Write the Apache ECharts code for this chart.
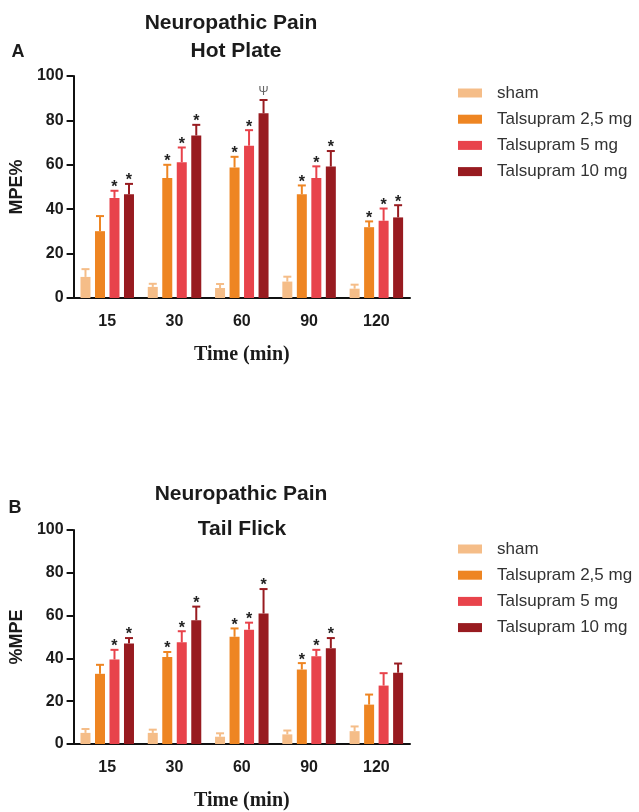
<!DOCTYPE html>
<html>
<head>
    <meta charset="UTF-8">
    <script src="https://cdn.jsdelivr.net/npm/echarts@6/dist/echarts.min.js"></script>
    <style>
        html, body { margin: 0; padding: 0; background: #fff; }
    </style>
</head>
<body>
<div id="main" style="width: 639px; height: 812px;"></div>

<script type="text/javascript">
    // time points (min)
    var categories = ['15', '30', '60', '90', '120'];
    var groupNames = ['sham', 'Talsupram 2,5 mg', 'Talsupram 5 mg', 'Talsupram 10 mg'];
    var colors = ['#F5BD88', '#EE8522', '#E8434B', '#981B20'];
    var yTicks = [0, 20, 40, 60, 80, 100];

    // A - hot plate, mean and SEM
    var hpSham = [9.5, 5.0, 4.5, 7.4, 4.2];
    var hpShamErr = [3.5, 1.4, 1.8, 2.2, 1.8];
    var hpT25 = [30.1, 54.0, 58.8, 46.7, 31.9];
    var hpT25Err = [6.8, 6.0, 4.8, 4.0, 2.6];
    var hpT5 = [45.1, 61.2, 68.6, 54.0, 34.8];
    var hpT5Err = [3.2, 6.6, 7.0, 5.3, 5.5];
    var hpT10 = [46.7, 73.2, 83.2, 59.2, 36.3];
    var hpT10Err = [4.7, 4.8, 6.0, 7.0, 5.5];
    var hpSigSham = ['', '', '', '', ''];
    var hpSigT25 = ['', '*', '*', '*', '*'];
    var hpSigT5 = ['*', '*', '*', '*', '*'];
    var hpSigT10 = ['*', '*', 'Ψ', '*', '*'];

    // B - tail flick, mean and SEM
    var tfSham = [5.2, 5.2, 3.4, 4.5, 6.0];
    var tfShamErr = [1.8, 1.5, 1.6, 1.8, 2.2];
    var tfT25 = [32.8, 40.6, 50.1, 34.8, 18.4];
    var tfT25Err = [4.2, 2.4, 3.9, 3.0, 4.7];
    var tfT5 = [39.5, 47.5, 53.4, 41.0, 27.3];
    var tfT5Err = [4.5, 5.2, 3.3, 3.0, 5.8];
    var tfT10 = [47.0, 57.8, 61.0, 44.8, 33.3];
    var tfT10Err = [2.5, 6.4, 11.4, 4.7, 4.3];
    var tfSigSham = ['', '', '', '', ''];
    var tfSigT25 = ['', '*', '*', '*', ''];
    var tfSigT5 = ['*', '*', '*', '*', ''];
    var tfSigT10 = ['*', '*', '*', '*', ''];

    var FONT = "'Liberation Sans', Arial, sans-serif";
    var BAR_W = 10;
    var STEP = 14.5;
    var offsets = [-1.5 * STEP, -0.5 * STEP, 0.5 * STEP, 1.5 * STEP];

    function errorSeries(idx, gridIdx, means, errs, marks) {
        var data = [];
        for (var i = 0; i < means.length; i++) {
            data.push([i, means[i], errs[i]]);
        }
        return {
            type: 'custom',
            name: groupNames[idx],
            xAxisIndex: gridIdx,
            yAxisIndex: gridIdx,
            z: 5,
            data: data,
            renderItem: function (params, api) {
                var cat = api.value(0), m = api.value(1), e = api.value(2);
                var base = api.coord([cat, m]);
                var top = api.coord([cat, m + e]);
                var x = base[0] + offsets[idx];
                var style = {stroke: colors[idx], lineWidth: 2};
                var kids = [
                    {type: 'line', shape: {x1: x, y1: base[1], x2: x, y2: top[1]}, style: style},
                    {type: 'line', shape: {x1: x - 4, y1: top[1], x2: x + 4, y2: top[1]}, style: style}
                ];
                var mk = marks[params.dataIndex];
                if (mk === '*') {
                    kids.push({type: 'text', x: x, y: top[1] - 3,
                        style: {text: '*', font: 'bold 16px ' + FONT, fill: '#222', align: 'center', verticalAlign: 'middle'}});
                } else if (mk) {
                    kids.push({type: 'text', x: x, y: top[1] - 8,
                        style: {text: mk, font: '12px ' + FONT, fill: '#666', align: 'center', verticalAlign: 'middle'}});
                }
                return {type: 'group', children: kids};
            }
        };
    }

    function barSeries(idx, gridIdx, means) {
        return {
            type: 'bar',
            name: groupNames[idx],
            xAxisIndex: gridIdx,
            yAxisIndex: gridIdx,
            barWidth: BAR_W,
            barGap: '45%',
            itemStyle: {color: colors[idx]},
            data: means
        };
    }

    function xAxis(gridIdx) {
        return {
            type: 'category',
            gridIndex: gridIdx,
            data: categories,
            name: 'Time (min)',
            nameLocation: 'middle',
            nameGap: 47,
            nameTextStyle: {fontFamily: "'Liberation Serif', 'Times New Roman', serif", fontWeight: 'bold', fontSize: 20, color: '#1b1b1b'},
            axisLine: {lineStyle: {color: '#111', width: 2}},
            axisTick: {alignWithLabel: true, length: 6, lineStyle: {color: '#111', width: 2}},
            axisLabel: {fontFamily: FONT, fontWeight: 'bold', fontSize: 16, color: '#1b1b1b', margin: 16}
        };
    }

    function yAxis(gridIdx, name) {
        return {
            type: 'value',
            gridIndex: gridIdx,
            min: yTicks[0],
            max: yTicks[yTicks.length - 1],
            interval: yTicks[1] - yTicks[0],
            name: name,
            nameLocation: 'middle',
            nameRotate: 90,
            nameGap: 40,
            nameTextStyle: {fontFamily: FONT, fontWeight: 'bold', fontSize: 18, color: '#1b1b1b'},
            splitLine: {show: false},
            axisLine: {show: true, lineStyle: {color: '#111', width: 2}},
            axisTick: {show: true, length: 7, lineStyle: {color: '#111', width: 2}},
            axisLabel: {fontFamily: FONT, fontWeight: 'bold', fontSize: 16, color: '#1b1b1b', margin: 10}
        };
    }

    function legend(top) {
        return {
            orient: 'vertical',
            left: 453,
            top: top,
            itemWidth: 24,
            itemHeight: 9,
            itemGap: 8.2,
            icon: 'rect',
            data: groupNames,
            textStyle: {fontFamily: FONT, fontSize: 17, lineHeight: 18, color: '#333', padding: [0, 0, 0, 10]}
        };
    }

    function label(text, x, y, size) {
        return {
            type: 'text', x: x, y: y,
            style: {text: text, font: 'bold ' + size + 'px ' + FONT, fill: '#1b1b1b',
                align: 'center', verticalAlign: 'middle'}
        };
    }

    var series = [
        barSeries(0, 0, hpSham), barSeries(1, 0, hpT25), barSeries(2, 0, hpT5), barSeries(3, 0, hpT10),
        errorSeries(0, 0, hpSham, hpShamErr, hpSigSham), errorSeries(1, 0, hpT25, hpT25Err, hpSigT25),
        errorSeries(2, 0, hpT5, hpT5Err, hpSigT5), errorSeries(3, 0, hpT10, hpT10Err, hpSigT10),
        barSeries(0, 1, tfSham), barSeries(1, 1, tfT25), barSeries(2, 1, tfT5), barSeries(3, 1, tfT10),
        errorSeries(0, 1, tfSham, tfShamErr, tfSigSham), errorSeries(1, 1, tfT25, tfT25Err, tfSigT25),
        errorSeries(2, 1, tfT5, tfT5Err, tfSigT5), errorSeries(3, 1, tfT10, tfT10Err, tfSigT10)
    ];

    var myChart = echarts.init(document.getElementById('main'));
    var option = {
        backgroundColor: '#fff',
        animation: false,
        grid: [
            {left: 72, right: 229, top: 76, height: 222},
            {left: 72, right: 229, top: 530, height: 223}
        ],
        xAxis: [xAxis(0), xAxis(1)],
        yAxis: [yAxis(0, 'MPE%'), yAxis(1, '%MPE')],
        legend: [legend(79), legend(535)],
        graphic: [
            label('Neuropathic Pain', 231, 23, 21),
            label('Hot Plate', 236, 51, 21),
            label('A', 18, 52, 18),
            label('Neuropathic Pain', 241, 494, 21),
            label('Tail Flick', 242, 529, 21),
            label('B', 15, 508, 18)
        ],
        series: series
    };
    myChart.setOption(option);
</script>
</body>
</html>
